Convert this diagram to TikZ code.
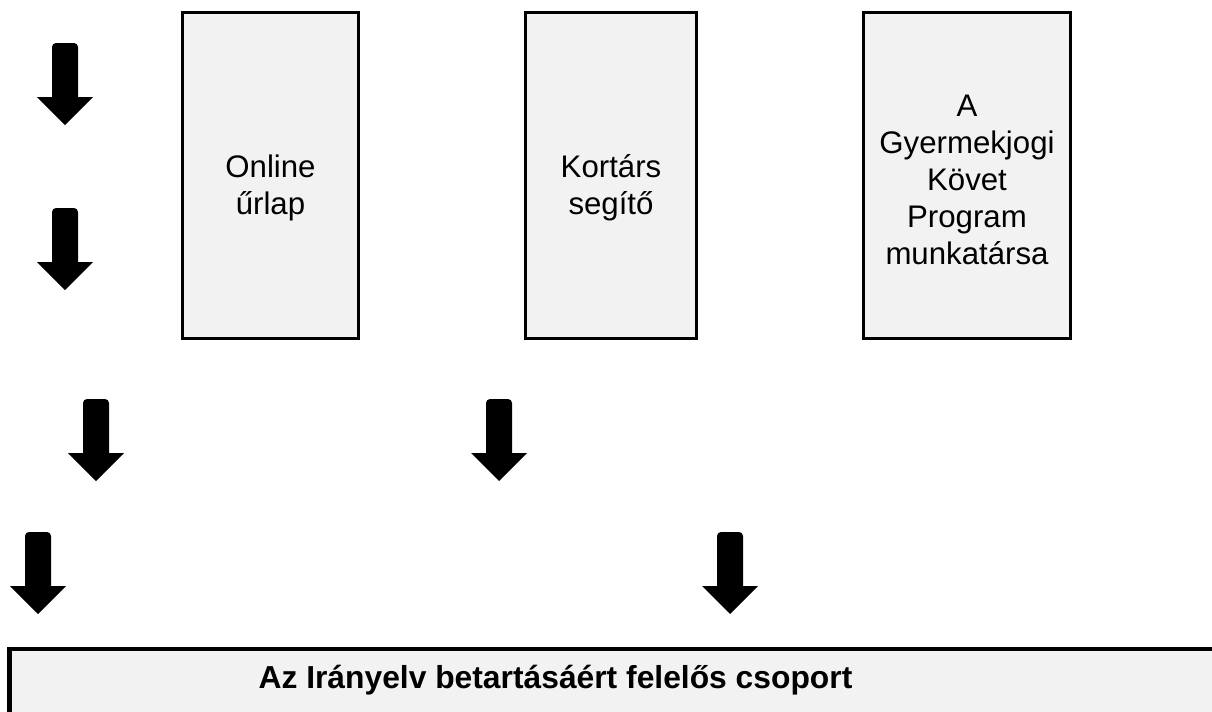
\documentclass[tikz,border=0pt]{standalone}
\usepackage{fontspec}
\setmainfont{Liberation Sans}
\usepackage{tikz}
\usetikzlibrary{positioning}

\definecolor{boxgray}{HTML}{F2F2F2}

\begin{document}
\begin{tikzpicture}[x=0.5pt, y=-0.5pt,
    box/.style={draw, line width=1.5pt, fill=boxgray,
        minimum height=163pt, inner sep=0pt},
    boxtext/.style={align=center, inner sep=0pt,
        font=\fontsize{15.6}{18.5}\selectfont},
    downarr/.pic={
        \fill (-13,54) [rounded corners=2pt] -- (-13,0) -- (13,0)
            [sharp corners] -- (13,54) -- (28,54) -- (0,82) -- (-28,54) -- cycle;
    }]

    \useasboundingbox (0,0) rectangle (1212,712);

    % Boxes on top
    \node[box, minimum width=88pt] (online) at (270.5,175.5) {};
    \node[box, minimum width=85.5pt] (kortars) at (611,175.5) {};
    \node[box, minimum width=103.5pt] (kovet) at (967,175.5) {};

    \node[boxtext] (onlinetxt) at ([yshift=-6pt]online.center) {Online\\űrlap};
    \node[boxtext] (kortarstxt) at ([yshift=-6pt]kortars.center) {Kortárs\\segítő};
    \node[boxtext] (kovettxt) at ([yshift=-2pt]kovet.center)
        {A\\Gyermekjogi\\Követ\\Program\\munkatársa};

    % Block arrows
    \pic at (65,43) {downarr};
    \pic at (65,208) {downarr};
    \pic at (96,399) {downarr};
    \pic at (499,399) {downarr};
    \pic at (38,532) {downarr};
    \pic at (730,532) {downarr};

    % Bottom bar, cut off at the page edge
    \begin{scope}
        \clip (0,0) rectangle (1212,712);
        \draw[line width=2.25pt, fill=boxgray] (9.5,649) rectangle (1240,760);
    \end{scope}
    \node[font=\fontsize{15.9}{18}\selectfont\bfseries] (csoport) at (555.5,680)
        {Az Irányelv betartásáért felelős csoport};

\end{tikzpicture}
\end{document}
